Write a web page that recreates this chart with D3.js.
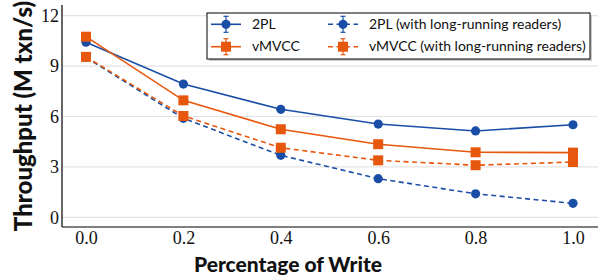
<!DOCTYPE html>
<html><head><meta charset="utf-8">
<script src="https://cdn.jsdelivr.net/npm/d3@7"></script>
<style>body{margin:0;background:#fff}svg{display:block}
.tick text{font-family:"Liberation Serif",serif !important;font-size:18px !important}</style>
</head><body>
<svg id="c" width="598" height="279"></svg>
<script>
const writePct = [0.0, 0.2, 0.4, 0.6, 0.8, 1.0];
const twoPL = [10.42, 7.93, 6.43, 5.55, 5.14, 5.51];
const vMVCC = [10.75, 6.96, 5.24, 4.35, 3.87, 3.85];
const twoPLLong = [9.52, 5.89, 3.69, 2.30, 1.40, 0.83];
const vMVCCLong = [9.55, 6.03, 4.14, 3.39, 3.10, 3.29];
const yTicks = [0, 3, 6, 9, 12];
const xTicks = [0.0, 0.2, 0.4, 0.6, 0.8, 1.0];

const blue = "#1a4ea6", orange = "#e8570e";
const series = [
  {name: "2PL", vals: twoPL, color: blue, shape: "circle", dash: null},
  {name: "vMVCC", vals: vMVCC, color: orange, shape: "square", dash: null},
  {name: "2PL (with long-running readers)", vals: twoPLLong, color: blue, shape: "circle", dash: "5,3.5"},
  {name: "vMVCC (with long-running readers)", vals: vMVCCLong, color: orange, shape: "square", dash: "5,3.5"}
];

const svg = d3.select("#c");
const L = 62, R = 598, T = 5, B = 227;
const x = d3.scaleLinear().domain([0, 1]).range([86, 573]);
const y = d3.scaleLinear().domain([0, 12]).range([217.3, 15.7]);

svg.append("g").selectAll("line").data(yTicks).join("line")
  .attr("x1", L).attr("x2", R).attr("y1", d => y(d)).attr("y2", d => y(d))
  .attr("stroke", "#e3e3e3").attr("stroke-width", 1.2);

const yAxis = svg.append("g").attr("transform", `translate(${L},0)`)
  .call(d3.axisLeft(y).tickValues(yTicks).tickFormat(d3.format("d")).tickSize(0).tickPadding(3));
yAxis.attr("font-family", "Liberation Serif").attr("font-size", 18);
yAxis.select(".domain").remove();
svg.append("line").attr("x1", L).attr("x2", L).attr("y1", T).attr("y2", B).attr("stroke", "#000").attr("stroke-width", 1.2);
const xAxis = svg.append("g").attr("transform", `translate(0,${B})`)
  .call(d3.axisBottom(x).tickValues(xTicks).tickFormat(d3.format(".1f")).tickSize(0).tickPadding(4));
xAxis.attr("font-family", "Liberation Serif").attr("font-size", 18);
xAxis.select(".domain").remove();
svg.append("line").attr("x1", L).attr("x2", R).attr("y1", B).attr("y2", B).attr("stroke", "#000").attr("stroke-width", 1.2);
svg.selectAll(".tick text").attr("fill", "#111");

svg.append("text").attr("x", 288).attr("y", 272).attr("text-anchor", "middle")
  .style("font-family", "Lato").style("font-weight", "900").style("font-size", "21px").attr("fill", "#111")
  .text("Percentage of Write");
svg.append("text").attr("transform", "translate(32,116) rotate(-90)").attr("text-anchor", "middle")
  .style("font-family", "Lato").style("font-weight", "900").style("font-size", "24px").attr("fill", "#111")
  .text("Throughput (M txn/s)");

function marker(g, s, cx, cy) {
  if (s.shape === "circle") {
    g.append("circle").attr("cx", cx).attr("cy", cy).attr("r", 4.6).attr("fill", s.color);
  } else {
    g.append("rect").attr("x", cx - 5).attr("y", cy - 5).attr("width", 10).attr("height", 10).attr("fill", s.color);
  }
}

const line = d3.line().x((d, i) => x(writePct[i])).y(d => y(d));
const order = [2, 3, 0, 1];
order.forEach(k => {
  const s = series[k];
  const g = svg.append("g");
  g.append("path").attr("d", line(s.vals)).attr("fill", "none").attr("stroke", s.color)
    .attr("stroke-width", 1.6).attr("stroke-dasharray", s.dash);
  s.vals.forEach((v, i) => marker(g, s, x(writePct[i]), y(v)));
});

const lg = svg.append("g");
lg.append("rect").attr("x", 209).attr("y", 15).attr("width", 383).attr("height", 46).attr("fill", "#ccc");
lg.append("rect").attr("x", 207).attr("y", 13).attr("width", 383).attr("height", 46).attr("fill", "#fff")
  .attr("stroke", "#000").attr("stroke-width", 1);
const pos = [[211, 24.3], [211, 46.7], [328, 24.3], [328, 46.7]];
series.forEach((s, k) => {
  const [lx, ly] = pos[k];
  const g = lg.append("g");
  g.append("line").attr("x1", lx).attr("x2", lx + 30).attr("y1", ly).attr("y2", ly)
    .attr("stroke", s.color).attr("stroke-width", 1.6).attr("stroke-dasharray", s.dash);
  const cx = lx + 15;
  g.append("line").attr("x1", cx).attr("x2", cx).attr("y1", ly - 8).attr("y2", ly + 8).attr("stroke", s.color).attr("stroke-width", 1.2);
  g.append("line").attr("x1", cx - 2.5).attr("x2", cx + 2.5).attr("y1", ly - 8).attr("y2", ly - 8).attr("stroke", s.color).attr("stroke-width", 1.2);
  g.append("line").attr("x1", cx - 2.5).attr("x2", cx + 2.5).attr("y1", ly + 8).attr("y2", ly + 8).attr("stroke", s.color).attr("stroke-width", 1.2);
  marker(g, s, cx, ly);
  g.append("text").attr("x", lx + 41).attr("y", ly + 4.5).style("font-family", "Lato").style("font-size", "14px")
    .attr("fill", "#111").text(s.name);
});
</script>
</body></html>
